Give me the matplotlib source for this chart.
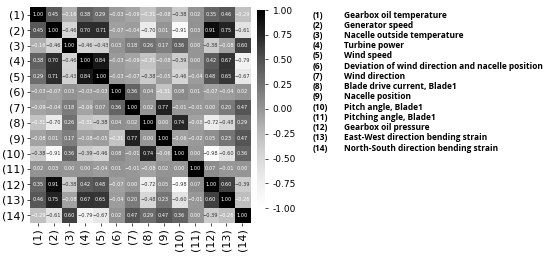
import numpy as np
import matplotlib
matplotlib.use("Agg")
import matplotlib.pyplot as plt

# correlation matrix
labels = ["(%d)" % i for i in range(1, 15)]
names = [
    "Gearbox oil temperature",
    "Generator speed",
    "Nacelle outside temperature",
    "Turbine power",
    "Wind speed",
    "Deviation of wind direction and nacelle position",
    "Wind direction",
    "Blade drive current, Blade1",
    "Nacelle position",
    "Pitch angle, Blade1",
    "Pitching angle, Blade1",
    "Gearbox oil pressure",
    "East-West direction bending strain",
    "North-South direction bending strain",
]
corr = np.array([
    [1.00, 0.45, -0.16, 0.38, 0.29, -0.03, -0.09, -0.31, -0.08, -0.38, 0.02, 0.35, 0.46, -0.29],
    [0.45, 1.00, -0.46, 0.70, 0.71, -0.07, -0.04, -0.70, 0.01, -0.91, 0.03, 0.91, 0.75, -0.61],
    [-0.16, -0.46, 1.00, -0.46, -0.43, 0.03, 0.18, 0.26, 0.17, 0.36, 0.00, -0.38, -0.08, 0.60],
    [0.38, 0.70, -0.46, 1.00, 0.84, -0.03, -0.09, -0.31, -0.08, -0.39, 0.00, 0.42, 0.67, -0.79],
    [0.29, 0.71, -0.43, 0.84, 1.00, -0.03, -0.07, -0.38, -0.05, -0.46, -0.04, 0.48, 0.65, -0.67],
    [-0.03, -0.07, 0.03, -0.03, -0.03, 1.00, 0.36, 0.04, -0.31, 0.08, 0.01, -0.07, -0.04, 0.02],
    [-0.09, -0.04, 0.18, -0.09, 0.07, 0.36, 1.00, 0.02, 0.77, -0.01, -0.01, 0.00, 0.20, 0.47],
    [-0.31, -0.70, 0.26, -0.31, -0.38, 0.04, 0.02, 1.00, 0.00, 0.74, -0.08, -0.72, -0.48, 0.29],
    [-0.08, 0.01, 0.17, -0.08, -0.05, -0.31, 0.77, 0.00, 1.00, -0.06, -0.02, 0.05, 0.23, 0.47],
    [-0.38, -0.91, 0.36, -0.39, -0.46, 0.08, -0.01, 0.74, -0.06, 1.00, 0.00, -0.98, -0.60, 0.36],
    [0.02, 0.03, 0.00, 0.00, -0.04, 0.01, -0.01, -0.08, 0.02, 0.00, 1.00, 0.07, -0.01, 0.00],
    [0.35, 0.91, -0.38, 0.42, 0.48, -0.07, 0.00, -0.72, 0.05, -0.98, 0.07, 1.00, 0.60, -0.39],
    [0.46, 0.75, -0.08, 0.67, 0.65, -0.04, 0.20, -0.48, 0.23, -0.60, -0.01, 0.60, 1.00, -0.26],
    [-0.29, -0.61, 0.60, -0.79, -0.67, 0.02, 0.47, 0.29, 0.47, 0.36, 0.00, -0.39, -0.26, 1.00],
])
cbar_ticks = [1, 0.75, 0.5, 0.25, 0, -0.25, -0.5, -0.75, -1]

W, H = 550, 259
fig = plt.figure(figsize=(W / 100, H / 100), dpi=100)
ax = fig.add_axes([30 / W, (H - 223) / H, 220 / W, 216 / H])
cax = fig.add_axes([257 / W, (H - 208) / H, 8 / W, 198 / H])

n = len(labels)
im = ax.imshow(corr, cmap="Greys", vmin=-1, vmax=1, aspect="auto")
for i in range(n):
    for j in range(n):
        v = corr[i, j]
        col = "white" if v > -0.35 else "#333333"
        s = ("%.2f" % v).replace("-", "\u2212")
        ax.text(j, i, s, ha="center", va="center", fontsize=3.6, color=col)

ax.set_xticks(range(n))
ax.set_yticks(range(n))
ax.set_xticklabels(labels, rotation=90, fontsize=8)
ax.set_yticklabels(labels, fontsize=8)
ax.tick_params(length=2, width=0.5, pad=2)
for sp in ax.spines.values():
    sp.set_visible(False)

cb = fig.colorbar(im, cax=cax, ticks=cbar_ticks)
cb.ax.tick_params(labelsize=6.5, length=2, width=0.5)
cb.ax.set_yticklabels(["%.2f" % t for t in cbar_ticks])
cb.outline.set_visible(False)

# variable legend at the right
for k, (lab, name) in enumerate(zip(labels, names)):
    y = 1 - (15 + k * 10.25) / H
    fig.text(313 / W, y, lab, fontsize=6.0, fontweight="bold", family="Open Sans", va="center")
    fig.text(344 / W, y, name, fontsize=6.0, fontweight="bold", family="Open Sans", va="center")

fig.savefig("out.png", dpi=100)
